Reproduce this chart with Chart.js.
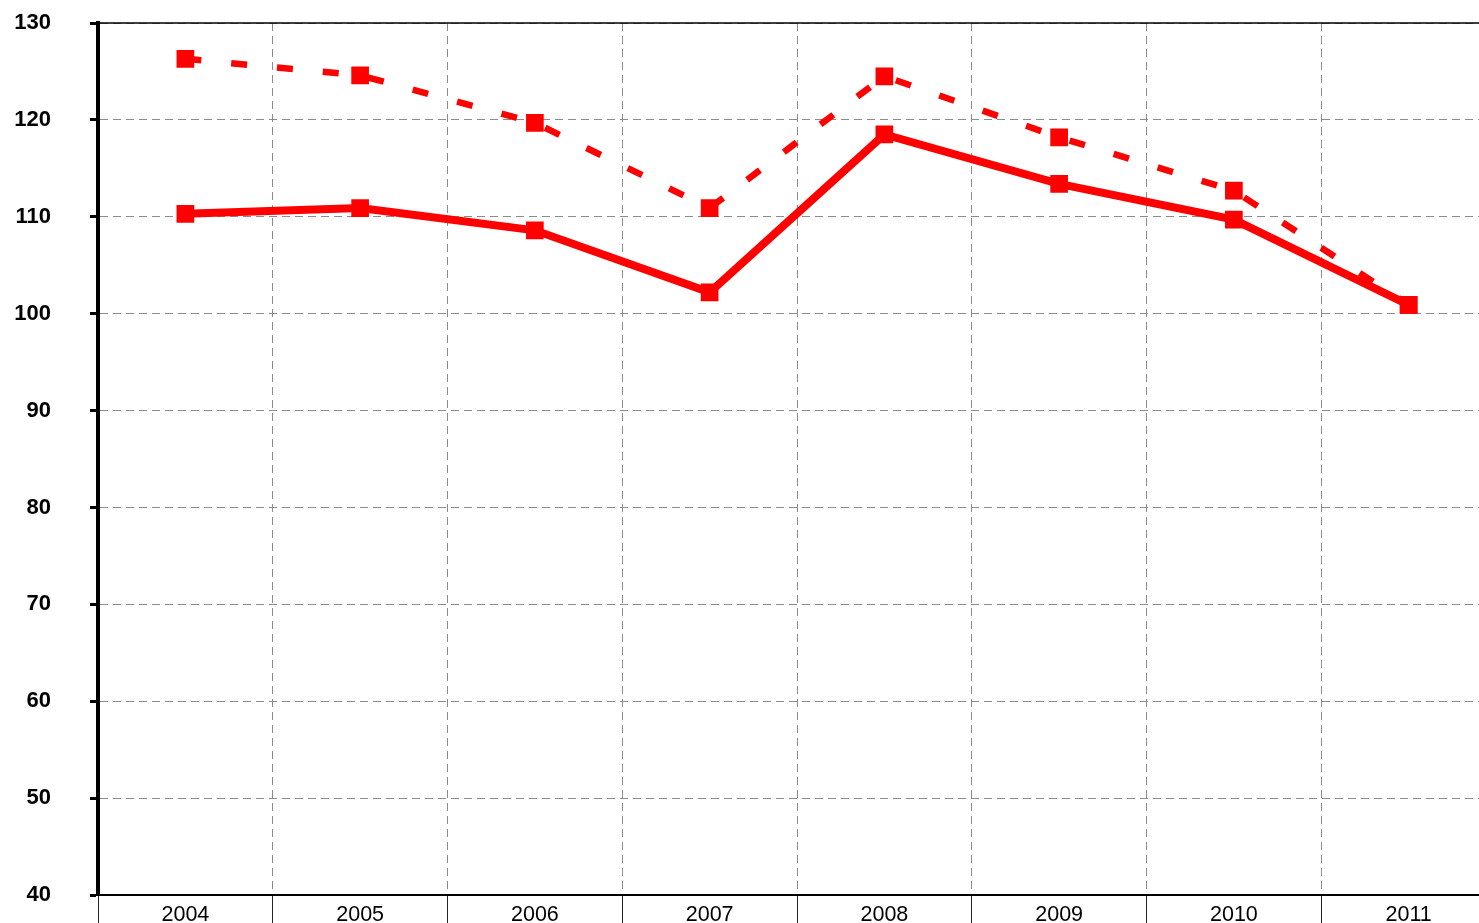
<!DOCTYPE html>
<html>
<head>
<meta charset="utf-8">
<script src="https://cdn.jsdelivr.net/npm/chart.js@4/dist/chart.umd.min.js"></script>
<style>
  html, body { margin: 0; padding: 0; background: #fff; overflow: hidden; }
  #myChart { display: block; }
</style>
</head>
<body>
<canvas id="myChart" width="1496" height="923"></canvas>
<script>
// values
const years = ['2004', '2005', '2006', '2007', '2008', '2009', '2010', '2011'];
const solidSeries = [110.3, 110.9, 108.6, 102.2, 118.5, 113.4, 109.7, 100.9];
const dashedSeries = [126.3, 124.6, 119.7, 110.9, 124.5, 118.2, 112.7, 100.9];
const yTicks = [40, 50, 60, 70, 80, 90, 100, 110, 120, 130];

// solid black line along the top of the plot area
const topBorder = {
    id: 'topBorder',
    afterDraw(chart) {
        const { ctx, chartArea } = chart;
        ctx.save();
        ctx.strokeStyle = '#000';
        ctx.lineWidth = 1.5;
        ctx.beginPath();
        ctx.moveTo(chartArea.left, chartArea.top);
        ctx.lineTo(chartArea.right, chartArea.top);
        ctx.stroke();
        ctx.restore();
    }
};

const ctx = document.getElementById('myChart').getContext('2d');
new Chart(ctx, {
    type: 'line',
    data: {
        labels: years,
        datasets: [
            {
                data: solidSeries,
                borderColor: '#ff0000',
                backgroundColor: '#ff0000',
                borderWidth: 8,
                tension: 0,
                pointStyle: 'rect',
                pointRadius: 12.5,
                pointBorderWidth: 0,
                pointHoverRadius: 12.5
            },
            {
                data: dashedSeries,
                borderColor: '#ff0000',
                backgroundColor: '#ff0000',
                borderWidth: 6.5,
                borderDash: [16, 30],
                borderCapStyle: 'butt',
                tension: 0,
                pointStyle: 'rect',
                pointRadius: 12.5,
                pointBorderWidth: 0,
                pointHoverRadius: 12.5
            }
        ]
    },
    options: {
        responsive: false,
        animation: false,
        layout: { autoPadding: false, padding: { top: 23, left: 0, right: 0, bottom: 0 } },
        plugins: {
            legend: { display: false },
            tooltip: { enabled: false }
        },
        scales: {
            x: {
                type: 'category',
                offset: true,
                grid: {
                    offset: true,
                    color: '#8c8c8c',
                    lineWidth: 1,
                    tickLength: 28,
                    tickColor: '#222',
                    tickWidth: 1,
                    tickBorderDash: []
                },
                border: { display: true, color: '#000', width: 2, dash: [8, 5] },
                ticks: {
                    color: '#000',
                    padding: -21,
                    font: { family: 'Liberation Sans, Arial, sans-serif', size: 21.5 }
                },
                afterFit(scale) {
                    scale.height = 28;
                    scale.paddingLeft = 0;
                    scale.paddingRight = 0;
                }
            },
            y: {
                min: 40,
                max: 130,
                afterBuildTicks(scale) {
                    scale.ticks = yTicks.map(v => ({ value: v }));
                },
                grid: {
                    color: '#8c8c8c',
                    lineWidth: 1,
                    tickLength: 8,
                    tickColor: '#000',
                    tickWidth: 3,
                    tickBorderDash: []
                },
                border: { display: true, color: '#000', width: 4, dash: [8, 5] },
                ticks: {
                    color: '#000',
                    padding: 39,
                    font: { family: 'Liberation Sans, Arial, sans-serif', size: 22, weight: 'bold' }
                },
                afterFit(scale) {
                    scale.width = 98;
                    scale.paddingTop = 0;
                    scale.paddingBottom = 0;
                }
            }
        }
    },
    plugins: [topBorder]
});
</script>
</body>
</html>
